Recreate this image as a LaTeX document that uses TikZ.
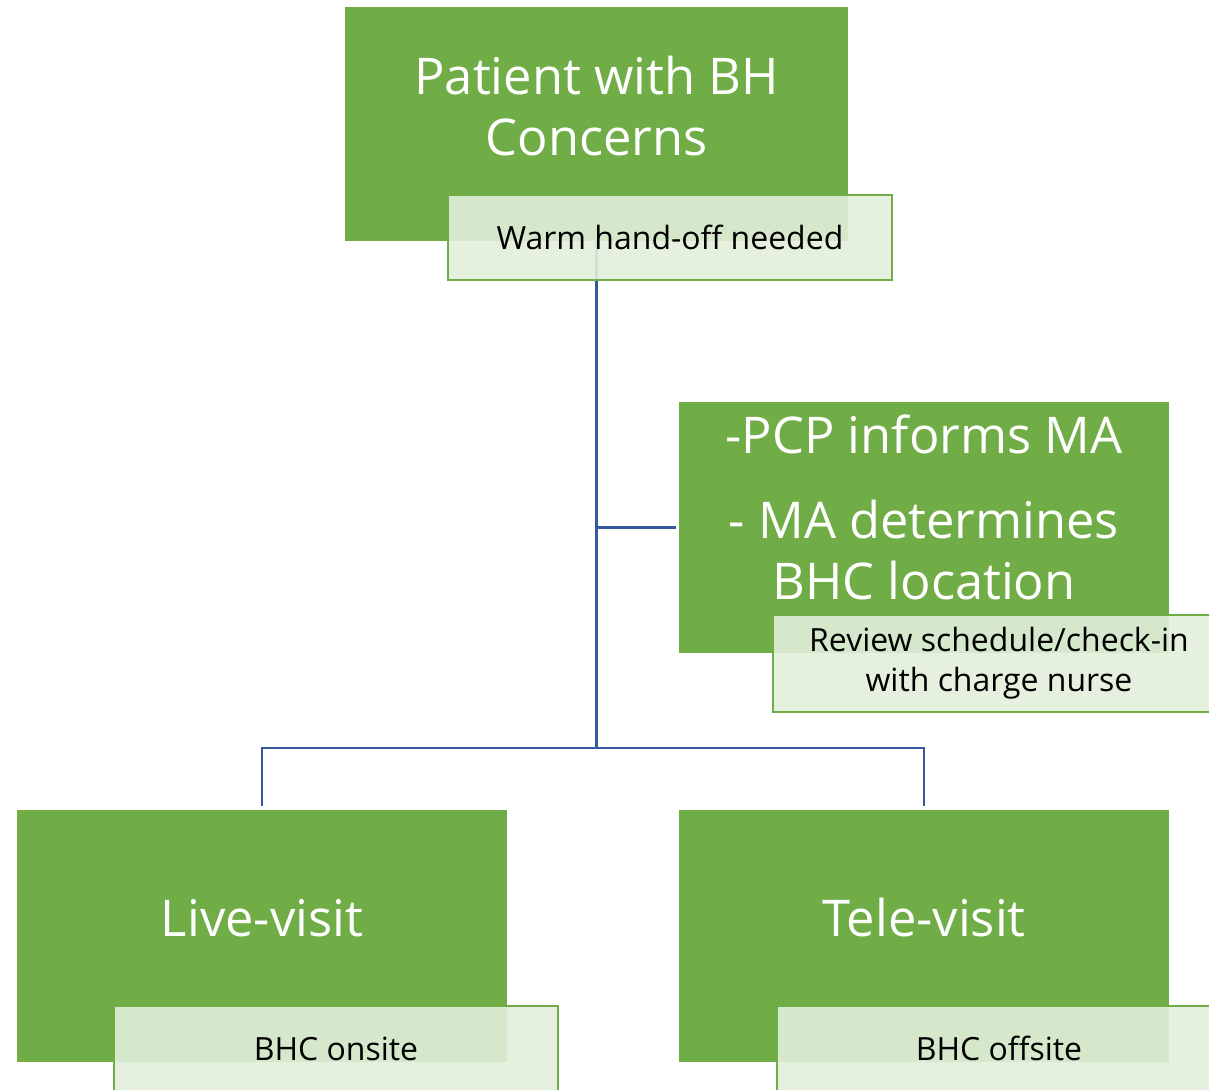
\documentclass[tikz,border=0pt]{standalone}
\usepackage{fontspec}
\setmainfont{Open Sans}
\usepackage{xcolor}
\usepackage{tikz}
\usetikzlibrary{positioning, calc}
\definecolor{bhgreen}{HTML}{70AD47}
\definecolor{bhlight}{HTML}{E2EFDA}
\definecolor{bhblue}{HTML}{3558A0}
\tikzset{
    gbox/.style={fill=bhgreen, draw=none, inner sep=0pt},
    lbox/.style={fill=bhlight, fill opacity=0.9, text opacity=1, draw=bhgreen, line width=1.2pt,
        inner sep=0pt, align=center, font=\fontsize{18.2}{22.7}\selectfont},
    bigtxt/.style={text=white, align=center, font=\fontsize{28.8}{34.5}\selectfont},
    conn/.style={draw=bhblue, line width=1.6pt}
}

\begin{document}
\begin{tikzpicture}
    \useasboundingbox (0,0) rectangle (24.18,-21.8);
    \clip (0,0) rectangle (24.18,-21.8);
    % Main boxes
    \node[gbox, minimum width=10.06cm, minimum height=4.68cm] (pat) at (11.93,-2.48) {};
    \node[gbox, minimum width=9.8cm, minimum height=5.02cm] (plan) at (18.48,-10.55) {};
    \node[gbox, minimum width=9.8cm, minimum height=5.04cm] (live) at (5.24,-18.72) {};
    \node[gbox, minimum width=9.8cm, minimum height=5.04cm] (tele) at (18.48,-18.72) {};
    % Box texts
    \node[bigtxt] (pattxt) at (11.93,-2.12) {Patient with BH\\Concerns};
    \node[bigtxt] (plantxt) at (18.48,-10.15) {-PCP informs MA\\[14pt]- MA determines\\BHC location};
    \node[bigtxt] (livetxt) at (5.24,-18.36) {Live-visit};
    \node[bigtxt] (teletxt) at (18.48,-18.36) {Tele-visit};
    % Connectors
    \coordinate (split) at (11.93,-14.96);
    \draw[conn] (pat.south) -- (split);
    \draw[conn, shorten >=0.06cm] (split |- plan.west) -- (plan.west);
    \draw[conn, shorten >=0.08cm] (split) -| (live.north);
    \draw[conn, shorten >=0.08cm] (split) -| (tele.north);
    % Sub boxes
    \node[lbox, minimum width=8.88cm, minimum height=1.70cm] (hand) at (13.4,-4.75) {Warm hand-off needed};
    \node[lbox, minimum width=9.04cm, minimum height=1.94cm] (sched) at (19.98,-13.27)
        {Review schedule/check-in\\with charge nurse};
    \node[lbox, minimum width=8.88cm, minimum height=1.70cm] (onsite) at (6.72,-20.97) {BHC onsite};
    \node[lbox, minimum width=8.88cm, minimum height=1.70cm] (offsite) at (19.98,-20.97) {BHC offsite};
\end{tikzpicture}
\end{document}
